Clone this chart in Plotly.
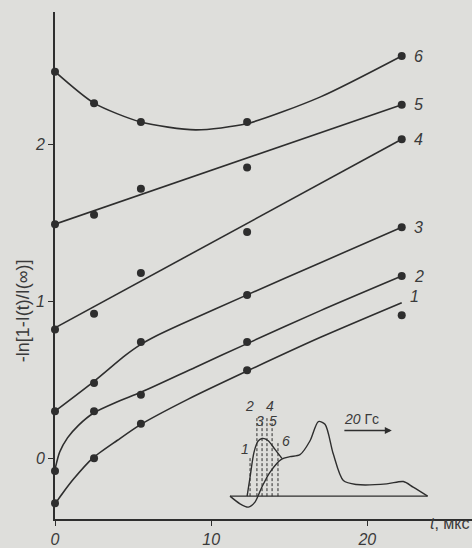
import plotly.graph_objects as go

# measured points: time (мкс) and -ln[1-I(t)/I(inf)] for curves 1..6
t_pts = [0, 2.5, 5.5, 12.3, 22.2]
pts = {
    "1": [-0.285, 0.00, 0.22, 0.56, 0.91],
    "2": [-0.08, 0.30, 0.405, 0.74, 1.16],
    "3": [0.30, 0.48, 0.74, 1.04, 1.47],
    "4": [0.82, 0.92, 1.18, 1.44, 2.03],
    "5": [1.49, 1.55, 1.715, 1.85, 2.25],
    "6": [2.46, 2.26, 2.14, 2.14, 2.56],
}

# smooth fitted curves (knots along each fit)
fit_t = {
    "1": [0, 0.5, 1.2, 2.4, 4, 5.4, 8.5, 12.4, 17, 22.2],
    "2": [0, 0.3, 0.8, 1.5, 2.5, 4, 5.5, 9, 12.3, 17, 22.2],
    "3": [0, 2.5, 4.5, 5.5, 6.5, 8, 12.3, 17, 22.2],
    "4": [0, 22.2],
    "5": [0, 22.2],
    "6": [0, 2.5, 5.5, 9, 12.3, 17, 22.2],
}
fit_y = {
    "1": [-0.29, -0.22, -0.13, 0.0, 0.115, 0.21, 0.375, 0.56, 0.77, 0.99],
    "2": [-0.07, 0.04, 0.13, 0.21, 0.29, 0.36, 0.42, 0.58, 0.73, 0.94, 1.16],
    "3": [0.30, 0.49, 0.655, 0.725, 0.78, 0.85, 1.04, 1.245, 1.47],
    "4": [0.83, 2.03],
    "5": [1.49, 2.25],
    "6": [2.46, 2.26, 2.14, 2.09, 2.13, 2.30, 2.56],
}

x_ticks = [0, 10, 20]
y_ticks = [0, 1, 2]

# inset: EPR-like spectrum sketch (field in Гс, arbitrary intensity)
spec_a_x = [0.8, 4.9, 8.3, 11.0, 13.8, 17.1, 21.9, 25.3, 29.4, 33.5, 36.9, 39.6, 43.0, 47.1, 52.5, 64.8, 71.6, 75.6, 81.5]
spec_a_y = [0, -7.7, -11, -6, 9, 24, 37.3, 39.7, 41.7, 55.7, 75, 72.3, 42.3, 15.7, 11.7, 12.3, 14.7, 9, 0]
spec_b_x = [7.8, 9.0, 10.6, 12.2, 13.9, 16.3, 19.2, 22.0]
spec_b_y = [0, 19, 44, 55, 58, 56, 47, 38]
base_x = [0.8, 81.5]
base_y = [0, 0]
mark_x = [9.0, 11.8, 13.9, 15.9, 18.0, 20.4]
mark_top = [40, 80, 76, 80, 76, 54]
mark_lbl = ["1", "2", "3", "4", "5", "6"]
mark_lbl_x = [7.0, 8.6, 13.1, 17.1, 18.4, 23.5]
mark_lbl_y = [47, 91, 76, 91, 76, 55]

INK = "#2e2e2e"
TXT = "#3a3a3a"
BG = "#dededb"
FONT = "Liberation Sans"

fig = go.Figure()

for k in ["1", "2", "3", "4", "5", "6"]:
    fig.add_trace(go.Scatter(
        x=fit_t[k], y=fit_y[k], mode="lines",
        line=dict(color=INK, width=1.6, shape="spline", smoothing=0.7),
        hoverinfo="skip", showlegend=False))
    fig.add_trace(go.Scatter(
        x=t_pts, y=pts[k], mode="markers",
        marker=dict(color=INK, size=8),
        cliponaxis=False, showlegend=False))

# curve numbers at the right-hand end
lbl_y = {"1": fit_y["1"][-1], "2": pts["2"][-1], "3": pts["3"][-1],
         "4": pts["4"][-1], "5": pts["5"][-1], "6": pts["6"][-1]}
for k, yv in lbl_y.items():
    fig.add_annotation(x=t_pts[-1], y=yv, text=k, showarrow=False,
                       xanchor="left", xshift=10 if k != "1" else 6,
                       yshift=0 if k != "1" else 6,
                       font=dict(family=FONT, size=16, color=TXT, style="italic"))

# inset spectrum
fig.add_trace(go.Scatter(x=base_x, y=base_y, xaxis="x2", yaxis="y2", mode="lines",
                         line=dict(color=INK, width=1.3), showlegend=False))
fig.add_trace(go.Scatter(x=spec_a_x, y=spec_a_y, xaxis="x2", yaxis="y2", mode="lines",
                         line=dict(color=INK, width=1.4, shape="spline", smoothing=0.8),
                         showlegend=False))
fig.add_trace(go.Scatter(x=spec_b_x, y=spec_b_y, xaxis="x2", yaxis="y2", mode="lines",
                         line=dict(color=INK, width=1.4, shape="spline", smoothing=0.8),
                         showlegend=False))
for mx, mt in zip(mark_x, mark_top):
    fig.add_trace(go.Scatter(x=[mx, mx], y=[0, mt], xaxis="x2", yaxis="y2", mode="lines",
                             line=dict(color=INK, width=1, dash="3px,2px"), showlegend=False))
for lx, ly, lt in zip(mark_lbl_x, mark_lbl_y, mark_lbl):
    fig.add_annotation(x=lx, y=ly, xref="x2", yref="y2", text=lt, showarrow=False,
                       font=dict(family=FONT, size=14, color=TXT, style="italic"))

fig.add_annotation(x=66.9, y=66, ax=46.9, ay=66, xref="x2", yref="y2",
                   axref="x2", ayref="y2", text="", showarrow=True,
                   arrowhead=2, arrowsize=1, arrowwidth=1.4, arrowcolor=INK)
fig.add_annotation(x=46.5, y=78, xref="x2", yref="y2", text="<i>20</i> Гс",
                   showarrow=False, xanchor="left",
                   font=dict(family=FONT, size=14, color=TXT))

# axis titles
fig.add_annotation(x=-0.105, y=0.41, xref="paper", yref="paper",
                   text="-ln[1-I(t)/I(∞)]", textangle=-90, showarrow=False,
                   font=dict(family=FONT, size=18, color=TXT))
fig.add_annotation(x=1.0, y=-0.03, xref="paper", yref="paper",
                   text="<i>t</i>, мкс", showarrow=False, xanchor="right",
                   font=dict(family=FONT, size=16, color=TXT))

fig.update_layout(
    width=472, height=548,
    margin=dict(l=55, r=0, t=12, b=26),
    paper_bgcolor=BG, plot_bgcolor=BG,
    xaxis=dict(range=[0, 26.7], tickvals=x_ticks, ticktext=[str(v) for v in x_ticks],
               showgrid=False, zeroline=False, showline=True, linecolor=INK, linewidth=1.6,
               ticks="outside", ticklen=5, tickcolor=INK,
               tickfont=dict(family=FONT, size=16, color=TXT, style="italic")),
    yaxis=dict(range=[-0.386, 2.84], tickvals=y_ticks, ticktext=[str(v) for v in y_ticks],
               showgrid=False, zeroline=False, showline=True, linecolor=INK, linewidth=1.6,
               ticks="outside", ticklen=5, tickcolor=INK,
               tickfont=dict(family=FONT, size=16, color=TXT, style="italic")),
    xaxis2=dict(domain=[0.4149, 0.9041], range=[0, 83.3], visible=False, anchor="y2"),
    yaxis2=dict(domain=[0.0137, 0.2412], range=[-16, 100], visible=False, anchor="x2"),
)

fig.write_html("out.html")
